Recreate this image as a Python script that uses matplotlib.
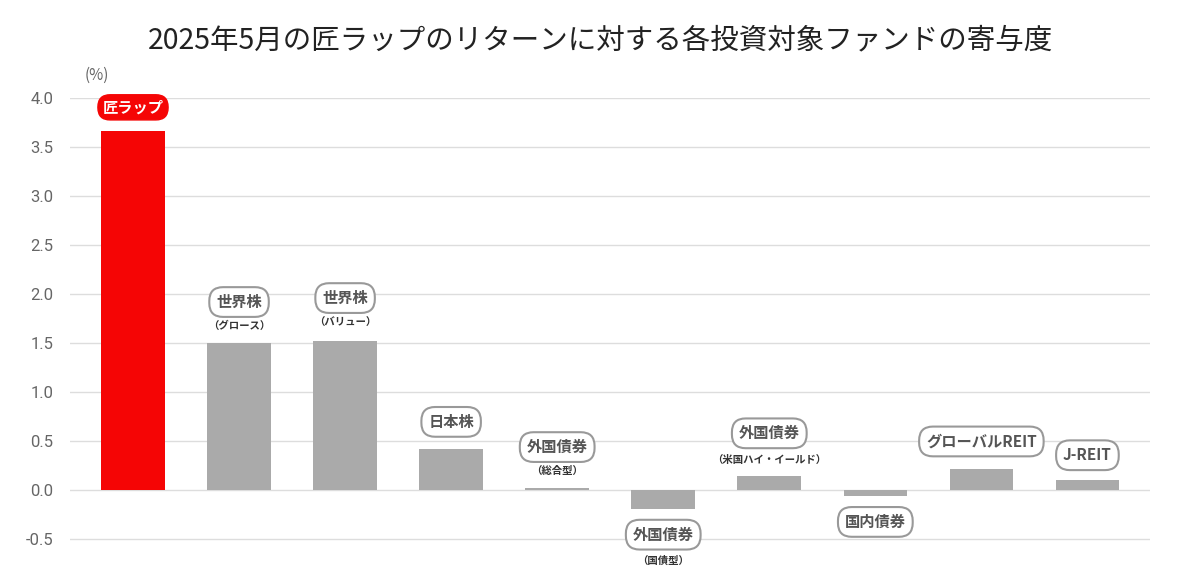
import matplotlib
matplotlib.use('Agg')
import matplotlib.pyplot as plt

plt.rcParams['font.family'] = ['Noto Sans CJK JP']

names = ['匠ラップ', '世界株', '世界株', '日本株', '外国債券', '外国債券',
         '外国債券', '国内債券', 'グローバルREIT', 'J-REIT']
subs = ['', '（グロース）', '（バリュー）', '', '（総合型）', '（国債型）',
        '（米国ハイ・イールド）', '', '', '']
values = [3.66, 1.50, 1.52, 0.42, 0.02, -0.19, 0.14, -0.06, 0.21, 0.10]
yticks = [-0.5, 0.0, 0.5, 1.0, 1.5, 2.0, 2.5, 3.0, 3.5, 4.0]

# label offsets in pixels from bar end (box, sub)
box_off = [24, 41, 43, 27, 41, -26, 43, -26, 28, 25]
sub_off = [0, 17, 18, 0, 17, -52, 16, 0, 0, 0]

fig = plt.figure(figsize=(12, 5.8), dpi=100)
ax = fig.add_axes([70/1200, 0.0086, 1080/1200, 0.831 - 0.0086])

x = list(range(len(values)))
colors = ['#f50505'] + ['#aaaaaa'] * (len(values) - 1)
ax.bar(x, values, width=0.6, color=colors, zorder=3)

ax.set_xlim(-0.594, 9.59)
ax.set_ylim(-0.867, 4.0)
ax.set_yticks(yticks)
ax.set_yticklabels([f'{v:.1f}' for v in yticks], family='Roboto')
ax.tick_params(axis='y', length=0, labelsize=12, labelcolor='#666666', pad=12)
ax.set_xticks([])
ax.grid(axis='y', color='#dddddd', linewidth=1, zorder=0)
for s in ax.spines.values():
    s.set_visible(False)

pt = 0.72
for i, (n, s, v) in enumerate(zip(names, subs, values)):
    if i == 0:
        bbox = dict(boxstyle='round,pad=0.3,rounding_size=0.8', fc='#f50505', ec='#f50505')
        tc = 'white'
    else:
        bbox = dict(boxstyle='round,pad=0.45,rounding_size=0.9', fc='white', ec='#999999', lw=1.5)
        tc = '#555555'
    ax.annotate(n, xy=(i, v), xytext=(0, box_off[i] * pt), textcoords='offset points',
                ha='center', va='center', fontsize=11, fontweight='bold', color=tc,
                bbox=bbox, zorder=5, annotation_clip=False)
    if s:
        ax.annotate(s, xy=(i, v), xytext=(0, sub_off[i] * pt), textcoords='offset points',
                    ha='center', va='center', fontsize=7.5, fontweight='bold', color='#333333',
                    zorder=5, annotation_clip=False)

fig.text(0.5, 0.93, '2025年5月の匠ラップのリターンに対する各投資対象ファンドの寄与度',
         ha='center', va='center', fontsize=20.5, color='#222222')
fig.text(97/1200, 1 - 75/580, '(%)', ha='center', va='center', fontsize=11, color='#666666')

fig.savefig('out.png', dpi=100, facecolor='white')
